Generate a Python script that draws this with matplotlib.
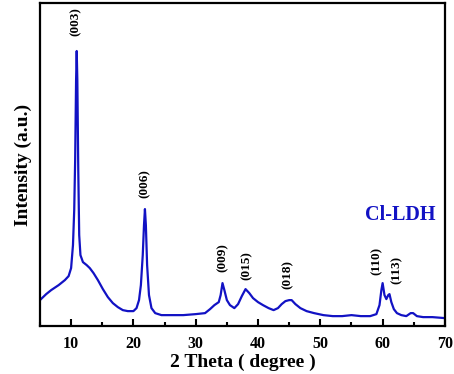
import matplotlib
matplotlib.use("Agg")
import matplotlib.pyplot as plt
from matplotlib.ticker import MultipleLocator

# XRD pattern (2 theta in degrees, intensity in arbitrary units)
two_theta = [
    5.0, 6.0, 6.8, 8.0, 9.0, 9.6, 10.0, 10.3, 10.5, 10.65, 10.8, 10.9, 11.0, 11.15,
    11.3, 11.5, 11.9, 12.5, 13.0, 13.6, 14.3, 15.1, 15.9, 16.7, 17.5, 18.3, 19.1,
    20.0, 20.5, 20.9, 21.2, 21.5, 21.7, 21.85, 22.0, 22.2, 22.5, 22.9, 23.5, 24.5,
    26.0, 28.0, 30.0, 31.5, 32.3, 33.0, 33.7, 34.0, 34.3, 34.6, 35.0, 35.5, 36.2,
    36.8, 37.4, 38.0, 38.6, 39.2, 40.0, 40.8, 41.7, 42.5, 43.2, 43.8, 44.4, 45.0,
    45.4, 46.0, 46.8, 47.8, 49.0, 50.5, 52.0, 53.5, 55.0, 56.5, 58.0, 59.0, 59.5,
    59.8, 60.0, 60.3, 60.6, 60.9, 61.1, 61.4, 61.8, 62.3, 63.0, 63.8, 64.5, 64.9,
    65.5, 66.5, 68.0, 70.0,
]
intensity = [
    26, 32, 36, 41, 46, 50, 58, 81, 116, 166, 246, 275, 246, 156,
    91, 71, 64, 61, 58, 53, 46, 37, 29, 23, 19, 16, 15,
    15, 18, 26, 41, 71, 101, 117, 101, 61, 31, 18, 13, 11,
    11, 11, 12, 13, 17, 21, 24, 31, 43, 36, 26, 21, 18,
    22, 30, 37, 33, 28, 24, 21, 18, 16, 18, 22, 25, 26,
    26, 22, 18, 15, 13, 11, 10, 10, 11, 10, 10, 12, 21,
    36, 43, 31, 27, 31, 32, 24, 17, 13, 11, 10, 13, 13,
    10, 9, 9, 8,
]

# reflection labels (miller indices) and where they sit
peak_labels = ["(003)", "(006)", "(009)", "(015)", "(018)", "(110)", "(113)"]
label_x = [10.7, 21.85, 34.4, 38.2, 44.8, 59.1, 62.3]
label_y = [290, 128, 54, 46, 37, 51, 42]

line_color = "#1212c4"

plt.rcParams["font.family"] = ["Liberation Serif", "DejaVu Serif"]
plt.rcParams["font.weight"] = "bold"

fig = plt.figure(figsize=(4.54, 3.74), dpi=100)
ax = fig.add_axes([0.088, 0.128, 0.892, 0.864])

ax.plot(two_theta, intensity, color=line_color, lw=1.6)

for text, x, y in zip(peak_labels, label_x, label_y):
    ax.text(x, y, text, rotation=90, ha="center", va="bottom", fontsize=9.5,
            fontweight="bold")

ax.text(57.1, 106, "Cl-LDH", color=line_color, fontsize=14.5, fontweight="bold",
        ha="left", va="baseline")

ax.set_xlim(5, 70)
ax.set_ylim(0, 323)
ax.xaxis.set_major_locator(MultipleLocator(10))
ax.xaxis.set_minor_locator(MultipleLocator(5))
ax.tick_params(axis="x", which="major", direction="in", length=5, width=1.5,
               labelsize=11.5, pad=7)
ax.tick_params(axis="x", which="minor", direction="in", length=3, width=1.5)
ax.set_yticks([])
for lbl in ax.get_xticklabels():
    lbl.set_fontweight("bold")
for sp in ax.spines.values():
    sp.set_linewidth(1.6)

ax.set_xlabel("2 Theta ( degree )", fontsize=14, fontweight="bold", labelpad=1)
ax.set_ylabel("Intensity (a.u.)", fontsize=14, fontweight="bold", labelpad=6)

fig.savefig("out.png", dpi=100)
